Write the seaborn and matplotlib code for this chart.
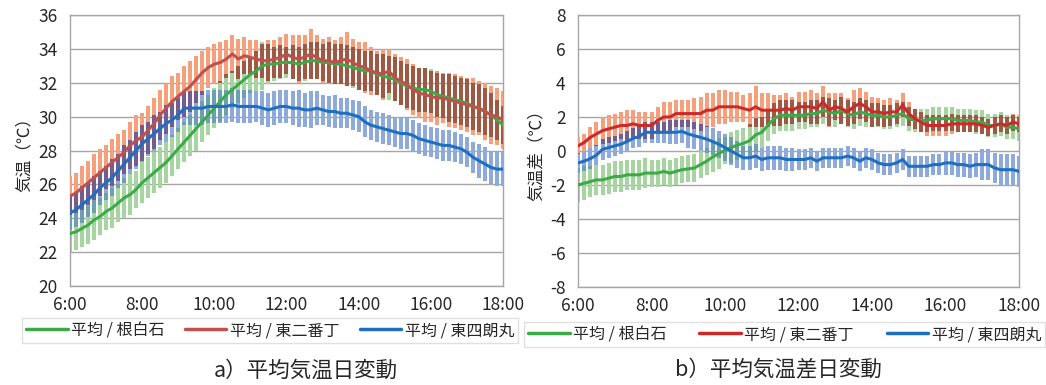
import numpy as np
import pandas as pd
import matplotlib
matplotlib.use("Agg")
import matplotlib.pyplot as plt
import seaborn as sns

# ---------------- data ----------------
times = [f"{h}:{m:02d}" for h in range(6, 18) for m in range(0, 60, 10)] + ["18:00"]
tick_labels = ["6:00", "8:00", "10:00", "12:00", "14:00", "16:00", "18:00"]
series_names = ["平均 / 根白石", "平均 / 東二番丁", "平均 / 東四朗丸"]

# panel a: mean temperature
a_green = [23.1, 23.2, 23.4, 23.6, 23.9, 24.1,
           24.4, 24.6, 24.9, 25.2, 25.4, 25.7,
           26.1, 26.4, 26.7, 27.0, 27.3, 27.7,
           28.1, 28.5, 28.9, 29.3, 29.7, 30.1,
           30.5, 30.9, 31.3, 31.6, 31.9, 32.2,
           32.5, 32.7, 33.0, 33.1, 33.1, 33.2,
           33.2, 33.2, 33.1, 33.2, 33.3, 33.3,
           33.2, 33.2, 33.1, 33.1, 33.0, 32.9,
           32.8, 32.7, 32.7, 32.5, 32.4, 32.3,
           32.2, 32.0, 31.8, 31.7, 31.6, 31.6,
           31.5, 31.3, 31.2, 31.1, 31.0, 30.9,
           30.8, 30.6, 30.5, 30.3, 30.1, 29.8,
           29.5]
a_red = [25.3, 25.5, 25.8, 26.1, 26.4, 26.7,
         27.0, 27.3, 27.6, 27.9, 28.3, 28.6,
         28.8, 29.2, 29.6, 30.1, 30.5, 30.9,
         31.2, 31.5, 31.8, 32.2, 32.6, 32.9,
         33.1, 33.2, 33.4, 33.7, 33.4, 33.6,
         33.5, 33.4, 33.3, 33.3, 33.4, 33.5,
         33.7, 33.5, 33.4, 33.5, 33.7, 33.5,
         33.3, 33.3, 33.2, 33.3, 33.4, 33.2,
         33.0, 32.9, 32.7, 32.6, 32.5, 32.7,
         32.3, 32.1, 31.9, 31.6, 31.4, 31.3,
         31.2, 31.1, 31.1, 31.0, 30.9, 30.8,
         30.7, 30.6, 30.5, 30.3, 30.1, 30.0,
         29.8]
a_blue = [24.3, 24.5, 24.8, 25.1, 25.4, 25.8,
          26.1, 26.4, 26.8, 27.2, 27.6, 28.0,
          28.4, 28.7, 29.0, 29.3, 29.6, 29.8,
          30.1, 30.5, 30.5, 30.5, 30.5, 30.6,
          30.6, 30.6, 30.6, 30.7, 30.6, 30.6,
          30.6, 30.6, 30.5, 30.4, 30.5, 30.6,
          30.6, 30.5, 30.5, 30.4, 30.4, 30.5,
          30.4, 30.3, 30.3, 30.2, 30.2, 30.1,
          30.0, 29.7, 29.5, 29.4, 29.3, 29.2,
          29.1, 29.0, 29.0, 28.9, 28.7, 28.6,
          28.5, 28.4, 28.3, 28.3, 28.2, 28.1,
          27.9, 27.6, 27.4, 27.2, 27.0, 26.9,
          26.9]
a_green_err = [1.1, 1.1, 1.1, 1.1, 1.2, 1.1,
               1.1, 1.2, 1.1, 1.2, 1.2, 1.1,
               1.2, 1.2, 1.2, 1.2, 1.2, 1.2,
               1.2, 1.2, 1.2, 1.3, 1.2, 1.2,
               1.2, 1.2, 1.2, 1.1, 1.1, 1.1,
               1.1, 1.2, 1.4, 1.2, 1.0, 1.0,
               0.9, 1.0, 1.0, 1.1, 1.1, 1.1,
               1.1, 1.2, 1.2, 1.2, 1.2, 1.2,
               1.2, 1.2, 1.2, 1.2, 1.3, 1.3,
               1.3, 1.3, 1.3, 1.3, 1.3, 1.3,
               1.3, 1.3, 1.3, 1.4, 1.4, 1.4,
               1.4, 1.4, 1.4, 1.4, 1.3, 1.2,
               1.1]
a_red_err = [1.2, 1.2, 1.3, 1.3, 1.4, 1.4,
             1.3, 1.4, 1.4, 1.3, 1.4, 1.5,
             1.4, 1.4, 1.5, 1.5, 1.5, 1.5,
             1.4, 1.5, 1.5, 1.4, 1.3, 1.2,
             1.2, 1.2, 1.1, 1.1, 1.2, 1.1,
             1.0, 1.1, 1.0, 1.2, 1.1, 1.2,
             1.2, 1.3, 1.4, 1.3, 1.5, 1.3,
             1.3, 1.4, 1.3, 1.4, 1.6, 1.4,
             1.4, 1.5, 1.4, 1.3, 1.5, 1.3,
             1.4, 1.4, 1.5, 1.5, 1.5, 1.6,
             1.5, 1.6, 1.5, 1.6, 1.6, 1.6,
             1.6, 1.7, 1.6, 1.7, 1.7, 1.7,
             1.7]
a_blue_err = [1.0, 1.0, 1.1, 1.0, 1.1, 1.0,
              1.0, 1.1, 1.0, 1.1, 1.0, 1.1,
              1.1, 1.0, 1.1, 1.0, 1.1, 1.0,
              1.0, 1.0, 1.0, 1.0, 1.0, 1.0,
              1.0, 1.0, 1.0, 1.0, 1.0, 1.0,
              1.0, 0.9, 1.0, 1.0, 1.0, 1.0,
              1.0, 1.0, 1.1, 1.0, 1.1, 1.0,
              0.9, 0.9, 1.0, 0.9, 0.9, 0.9,
              0.9, 0.9, 0.9, 0.9, 0.9, 0.9,
              0.9, 0.9, 0.9, 0.9, 0.9, 0.9,
              0.9, 0.9, 0.9, 0.9, 0.9, 0.9,
              0.9, 0.9, 1.0, 1.0, 1.0, 1.0,
              1.0]

# panel b: mean temperature difference
b_green = [-2.0, -1.9, -1.8, -1.7, -1.7, -1.6,
           -1.5, -1.5, -1.4, -1.4, -1.4, -1.3,
           -1.3, -1.3, -1.2, -1.3, -1.2, -1.1,
           -1.05, -1.0, -0.8, -0.6, -0.35, -0.15,
           0.05, 0.2, 0.35, 0.45, 0.6, 0.95,
           1.1, 1.5, 1.9, 2.1, 2.1, 2.1,
           2.1, 2.1, 2.2, 2.2, 2.4, 2.3,
           2.2, 2.4, 2.2, 2.1, 2.3, 2.2,
           2.1, 2.1, 2.0, 2.0, 2.1, 2.2,
           1.9, 1.8, 1.8, 1.8, 1.9, 1.9,
           1.9, 1.9, 1.8, 1.8, 1.8, 1.7,
           1.7, 1.5, 1.5, 1.6, 1.4, 1.4,
           1.3]
b_red = [0.3, 0.5, 0.8, 1.0, 1.2, 1.3,
         1.4, 1.5, 1.5, 1.6, 1.5, 1.5,
         1.5, 1.8, 2.0, 2.0, 2.2, 2.2,
         2.2, 2.2, 2.2, 2.4, 2.4, 2.6,
         2.6, 2.6, 2.6, 2.5, 2.4, 2.6,
         2.4, 2.4, 2.4, 2.4, 2.5, 2.4,
         2.6, 2.6, 2.6, 2.5, 2.9, 2.4,
         2.6, 2.5, 2.3, 2.6, 2.8, 2.6,
         2.3, 2.3, 2.2, 2.3, 2.3, 2.7,
         2.2, 1.9, 1.7, 1.5, 1.5, 1.5,
         1.5, 1.6, 1.6, 1.6, 1.6, 1.6,
         1.5, 1.4, 1.5, 1.6, 1.5, 1.7,
         1.6]
b_blue = [-0.7, -0.6, -0.45, -0.25, 0.1, 0.2,
          0.3, 0.4, 0.55, 0.75, 0.85, 1.1,
          1.1, 1.1, 1.1, 1.1, 1.1, 1.15,
          1.0, 0.9, 0.8, 0.7, 0.55, 0.4,
          0.2, 0.0, -0.2, -0.4, -0.4, -0.3,
          -0.5, -0.4, -0.4, -0.4, -0.5, -0.5,
          -0.5, -0.5, -0.4, -0.6, -0.4, -0.4,
          -0.4, -0.4, -0.3, -0.4, -0.6, -0.4,
          -0.5, -0.7, -0.8, -0.8, -0.7, -0.5,
          -0.9, -0.9, -0.9, -0.9, -0.8, -0.8,
          -0.7, -0.7, -0.8, -0.8, -0.9, -0.8,
          -0.8, -0.8, -1.0, -1.1, -1.1, -1.1,
          -1.2]
b_green_err = [1.0, 1.0, 0.9, 0.9, 0.9, 0.9,
               0.9, 0.9, 0.9, 0.9, 0.9, 0.9,
               0.8, 0.8, 0.8, 0.8, 0.8, 0.8,
               0.8, 0.8, 0.8, 0.8, 0.9, 0.9,
               0.8, 0.9, 0.9, 0.9, 1.0, 1.0,
               0.9, 0.9, 0.9, 0.9, 0.9, 0.9,
               0.8, 0.8, 0.8, 0.8, 0.8, 0.8,
               0.8, 0.8, 0.8, 0.8, 0.8, 0.8,
               0.7, 0.7, 0.7, 0.7, 0.7, 0.7,
               0.7, 0.7, 0.7, 0.7, 0.7, 0.7,
               0.7, 0.7, 0.7, 0.7, 0.7, 0.7,
               0.7, 0.7, 0.7, 0.7, 0.7, 0.7,
               0.7]
b_red_err = [0.5, 0.5, 0.6, 0.7, 0.8, 0.8,
             0.8, 0.8, 0.9, 0.8, 0.8, 0.8,
             0.8, 0.8, 0.9, 0.9, 0.8, 0.8,
             0.8, 0.9, 1.0, 1.0, 1.0, 1.0,
             1.0, 0.9, 0.9, 0.8, 1.0, 1.2,
             1.0, 1.0, 0.9, 0.9, 0.9, 0.8,
             0.9, 0.9, 1.0, 0.9, 0.9, 1.0,
             0.8, 0.9, 0.8, 1.0, 0.9, 0.9,
             0.9, 0.8, 0.8, 0.8, 0.7, 0.7,
             0.7, 0.6, 0.6, 0.6, 0.6, 0.6,
             0.6, 0.6, 0.5, 0.5, 0.5, 0.5,
             0.5, 0.5, 0.5, 0.5, 0.5, 0.5,
             0.5]
b_blue_err = [0.6, 0.6, 0.6, 0.6, 0.6, 0.6,
              0.6, 0.6, 0.6, 0.6, 0.6, 0.6,
              0.6, 0.6, 0.6, 0.7, 0.7, 0.7,
              0.8, 0.8, 0.8, 0.8, 0.8, 0.8,
              0.8, 0.8, 0.8, 0.7, 0.7, 0.7,
              0.7, 0.7, 0.7, 0.7, 0.7, 0.7,
              0.6, 0.6, 0.6, 0.6, 0.6, 0.6,
              0.6, 0.6, 0.6, 0.6, 0.6, 0.6,
              0.6, 0.6, 0.6, 0.6, 0.6, 0.6,
              0.6, 0.6, 0.6, 0.6, 0.6, 0.6,
              0.7, 0.7, 0.7, 0.7, 0.7, 0.7,
              0.9, 0.9, 0.9, 0.9, 0.9, 0.9,
              0.9]

# ---------------- style ----------------
sns.set_theme(style="white")
FONT = ["Noto Sans CJK JP", "DejaVu Sans"]
plt.rcParams["font.family"] = FONT

hours = np.array([6 + i / 6 for i in range(len(times))])

line_a = ["#3daa4a", "#c0504d", "#1f6fc0"]
line_b = ["#3daa4a", "#cc2a2a", "#1f6fc0"]
err_cols = ["#a6d59f", "#f5a07c", "#8eaadb"]
# colours where two translucent bar sets overlap
overlap_cols = {(0, 1): "#9c5a44", (1, 2): "#6f5e8e", (0, 2): "#6e9fb0"}

fig = plt.figure(figsize=(10.46, 3.85), dpi=100)
ax_a = fig.add_axes([70 / 1046, 1 - 286 / 385, (503 - 70) / 1046, (286 - 15) / 385])
ax_b = fig.add_axes([578 / 1046, 1 - 287 / 385, (1019 - 578) / 1046, (287 - 15) / 385])

BAR_W = 2.9


def draw(ax, means, errs, line_cols, ylim, yticks, ylabel):
    means = [np.asarray(m) for m in means]
    errs = [np.asarray(e) for e in errs]
    df = pd.DataFrame({
        "x": np.tile(hours, 3),
        "y": np.concatenate(means),
        "s": np.repeat(series_names, len(hours)),
    })
    for k in range(3):
        ax.errorbar(hours, means[k], yerr=errs[k], fmt="none",
                    ecolor=err_cols[k], elinewidth=BAR_W, capsize=0, zorder=2 + k)
    for (i, j), col in overlap_cols.items():
        lo = np.maximum(means[i] - errs[i], means[j] - errs[j])
        hi = np.minimum(means[i] + errs[i], means[j] + errs[j])
        mask = hi > lo
        ax.vlines(hours[mask], lo[mask], hi[mask], colors=col,
                  linewidth=BAR_W, zorder=5)
    sns.lineplot(data=df, x="x", y="y", hue="s", palette=line_cols,
                 hue_order=series_names, linewidth=2.2, ax=ax,
                 legend=False, zorder=6)
    ax.set_xlim(6, 18)
    ax.set_ylim(*ylim)
    ax.set_yticks(yticks)
    ax.set_yticklabels([str(t) for t in yticks], fontsize=12.5)
    ax.set_xticks([6, 8, 10, 12, 14, 16, 18])
    ax.set_xticklabels(tick_labels, fontsize=12.5)
    ax.tick_params(axis="y", length=0, pad=9)
    ax.tick_params(axis="x", length=0, pad=7)
    ax.grid(axis="y", color="#a6a6a6", linewidth=1.0)
    ax.grid(axis="x", visible=False)
    for sp in ax.spines.values():
        sp.set_color("#a6a6a6")
        sp.set_linewidth(1.0)
    ax.set_xlabel("")
    ax.set_ylabel(ylabel, fontsize=12, labelpad=4)
    ax.set_axisbelow(True)


draw(ax_a, [a_green, a_red, a_blue], [a_green_err, a_red_err, a_blue_err],
     line_a, (20, 36), list(range(20, 37, 2)), "気温（℃）")
draw(ax_b, [b_green, b_red, b_blue], [b_green_err, b_red_err, b_blue_err],
     line_b, (-8, 8), list(range(-8, 9, 2)), "気温差（℃）")


def add_legend(cols, box):
    handles = [plt.Line2D([0], [0], color=c, linewidth=2.5) for c in cols]
    leg = fig.legend(handles, series_names, loc="center", ncol=3, mode="expand",
                     bbox_to_anchor=box, bbox_transform=fig.transFigure,
                     fontsize=11.5, frameon=True, fancybox=False,
                     handlelength=2.6, handletextpad=0.2,
                     borderpad=0.25, borderaxespad=0)
    leg.get_frame().set_edgecolor("#d9d9d9")
    leg.get_frame().set_linewidth(1.0)
    return leg


add_legend(line_a, (22 / 1046, 1 - 342 / 385, 496 / 1046, 23 / 385))
add_legend(line_b, (524 / 1046, 1 - 350 / 385, 521 / 1046, 31 / 385))

fig.text(306 / 1046, 1 - 371 / 385, "a）平均気温日変動", ha="center", va="center",
         fontsize=15.5, family=FONT)
fig.text(778 / 1046, 1 - 370 / 385, "b）平均気温差日変動", ha="center", va="center",
         fontsize=15.5, family=FONT)

fig.savefig("out.png", dpi=100, facecolor="white")
